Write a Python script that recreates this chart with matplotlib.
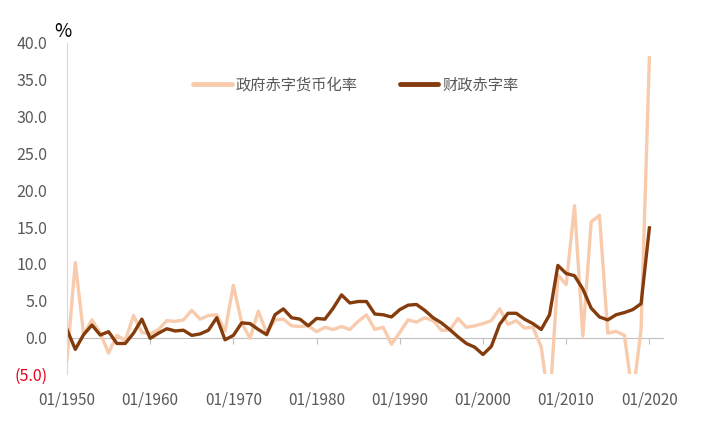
import matplotlib.pyplot as plt
from matplotlib.ticker import FuncFormatter

plt.rcParams['font.family'] = ['Noto Sans CJK SC', 'DejaVu Sans']

# 年份（每年一个点）
years = list(range(1950, 2021))

# 政府赤字货币化率 (%)
monetization = [
    -3.0, 10.2, 0.4, 2.4, 0.6, -2.1, 0.3, -0.4, 3.0, 0.7,
    0.5, 1.1, 2.3, 2.2, 2.4, 3.7, 2.5, 3.0, 3.1, 0.9,
    7.1, 2.0, -0.1, 3.6, 0.6, 2.4, 2.5, 1.6, 1.5, 1.6,
    0.8, 1.4, 1.1, 1.5, 1.1, 2.2, 3.1, 1.1, 1.4, -0.9,
    0.7, 2.4, 2.1, 2.7, 2.3, 1.0, 1.0, 2.6, 1.4, 1.6,
    1.9, 2.3, 3.9, 1.8, 2.3, 1.3, 1.4, -1.3, -9.5, 8.5,
    7.2, 17.9, 0.2, 15.7, 16.6, 0.6, 0.85, 0.3, -8.0, 1.1,
    38.0,
]

# 财政赤字率 (%)
deficit = [
    1.1, -1.6, 0.4, 1.7, 0.35, 0.8, -0.8, -0.8, 0.6, 2.5,
    -0.1, 0.6, 1.2, 0.9, 1.0, 0.3, 0.5, 1.0, 2.7, -0.3,
    0.3, 2.0, 1.9, 1.1, 0.4, 3.1, 3.9, 2.7, 2.5, 1.6,
    2.6, 2.5, 4.0, 5.8, 4.7, 4.9, 4.9, 3.2, 3.1, 2.8,
    3.8, 4.4, 4.5, 3.7, 2.7, 2.0, 1.1, 0.1, -0.8, -1.3,
    -2.3, -1.2, 1.8, 3.3, 3.3, 2.5, 1.9, 1.1, 3.1, 9.8,
    8.7, 8.4, 6.6, 4.0, 2.8, 2.4, 3.1, 3.4, 3.8, 4.6,
    14.9,
]

tick_years = [1950, 1960, 1970, 1980, 1990, 2000, 2010, 2020]
tick_labels = ['01/%d' % y for y in tick_years]

y_min, y_max = -5, 40
grey = '#595959'

fig = plt.figure(figsize=(7.05, 4.25), dpi=100)
ax = fig.add_axes([0.095, 0.119, 0.845, 0.780])

ax.plot(years, monetization, color='#F8CBAD', lw=2.4, label='政府赤字货币化率',
        solid_joinstyle='round')
ax.plot(years, deficit, color='#843C0C', lw=2.4, label='财政赤字率',
        solid_joinstyle='round')

ax.set_xlim(1950, 2021.6)
ax.set_ylim(y_min, y_max)
ax.set_yticks(range(-5, 41, 5))


def fmt(v, pos):
    if v < 0:
        return '(%.1f)' % abs(v)
    return '%.1f' % v


ax.yaxis.set_major_formatter(FuncFormatter(fmt))
ax.tick_params(axis='y', length=0, pad=14, labelsize=11.5, labelcolor=grey)
for lab in ax.get_yticklabels():
    if lab.get_text().startswith('('):
        lab.set_color('#E8001C')

# 横轴标签在底部，轴线在 0 处
ax.set_xticks(tick_years)
ax.set_xticklabels(tick_labels)
ax.tick_params(axis='x', length=0, pad=12, labelsize=11, labelcolor=grey)

for s in ['top', 'right', 'bottom']:
    ax.spines[s].set_visible(False)
ax.spines['left'].set_color('#D9D9D9')

zero_axis = ax.secondary_xaxis((0 - y_min) / (y_max - y_min))
zero_axis.set_xticks(tick_years)
zero_axis.set_xticklabels([])
zero_axis.tick_params(direction='out', length=4, color='#BFBFBF')
zero_axis.spines['bottom'].set_color('#BFBFBF')

fig.text(0.077, 0.913, '%', fontsize=13.5, color='black')

leg = fig.legend(loc='center', bbox_to_anchor=(0.505, 0.80), ncol=2, frameon=False,
                 fontsize=11, handlelength=2.5, handletextpad=0.25, columnspacing=2.8)
for t in leg.get_texts():
    t.set_color(grey)
for h in leg.get_lines():
    h.set_linewidth(3.5)
    h.set_solid_capstyle('round')

fig.savefig('out.png', dpi=100)
